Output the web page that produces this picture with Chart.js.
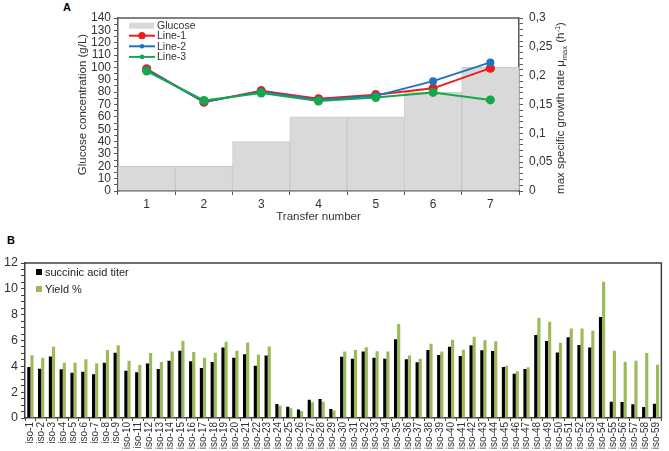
<!DOCTYPE html>
<html><head><meta charset="utf-8">
<script src="https://cdn.jsdelivr.net/npm/chart.js@4.4.0/dist/chart.umd.min.js"></script>
<style>
html,body{margin:0;padding:0;background:#fff;width:669px;height:451px;overflow:hidden;}
canvas{position:absolute;left:0;}
#ca{top:0;}
#cb{top:232px;}
.lbl{position:absolute;font:bold 11px "Liberation Sans",Arial,sans-serif;line-height:12px;color:#000;}
</style></head><body>
<div class="lbl" style="left:63px;top:1px">A</div>
<div class="lbl" style="left:7px;top:234px">B</div>
<canvas id="ca" width="669" height="232"></canvas>
<canvas id="cb" width="669" height="219"></canvas>
<script>
// ---- Panel A data ----
const transfers = ['1','2','3','4','5','6','7'];
const glucose = [20, 20, 40, 60, 60, 80, 100];
const line1 = [0.212, 0.154, 0.174, 0.160, 0.167, 0.178, 0.213];
const line2 = [0.210, 0.155, 0.172, 0.158, 0.165, 0.1905, 0.223];
const line3 = [0.208, 0.157, 0.170, 0.156, 0.162, 0.171, 0.158];

// ---- Panel B data ----
const isoLabels = ['iso-1','iso-2','iso-3','iso-4','iso-5','iso-6','iso-7','iso-8','iso-9','iso-10',
 'iso-11','iso-12','iso-13','iso-14','iso-15','iso-16','iso-17','iso-18','iso-19','iso-20',
 'iso-21','iso-22','iso-23','iso-24','iso-25','iso-26','iso-27','iso-28','iso-29','iso-30',
 'iso-31','iso-32','iso-33','iso-34','iso-35','iso-36','iso-37','iso-38','iso-39','iso-40',
 'iso-41','iso-42','iso-43','iso-44','iso-45','iso-46','iso-47','iso-48','iso-49','iso-50',
 'iso-51','iso-52','iso-53','iso-54','iso-55','iso-56','iso-57','iso-58','iso-59'];
const titer = [3.95,3.82,4.77,3.77,3.51,3.59,3.38,4.28,5.06,3.66,
 3.54,4.21,3.79,4.44,5.21,4.39,3.87,4.34,5.45,4.67,
 4.93,4.05,4.83,1.08,0.88,0.65,1.42,1.47,0.70,4.75,
 4.59,5.14,4.67,4.59,6.09,4.54,4.31,5.26,4.88,5.52,
 4.80,5.63,5.24,5.19,3.95,3.43,3.79,6.43,5.96,5.08,
 6.25,5.65,5.45,7.82,1.26,1.24,1.06,0.85,1.11];
const yieldPct = [4.85,4.67,5.52,4.28,4.28,4.54,4.23,5.26,5.63,4.44,
 4.10,5.03,4.34,5.14,5.99,5.11,4.67,5.06,5.91,5.21,
 5.85,4.89,5.53,0.94,0.75,0.54,1.21,1.26,0.59,5.14,
 5.26,5.47,5.16,5.14,7.28,4.83,4.59,5.75,5.14,6.06,
 5.29,6.30,6.01,5.94,4.05,3.61,3.92,7.77,7.46,5.83,
 6.92,6.92,6.76,10.55,5.21,4.36,4.44,5.03,4.13];

const F = '"Liberation Sans", Arial, sans-serif';
const AX = '#595959';
const TX = '#333333';
const RED = '#ee1c1c', BLUE = '#1f72c4', GREEN = '#14a84a';
const GRAY = '#d9d9d9';

const plA = {
  id: 'plA',
  afterDraw(chart) {
    const ctx = chart.ctx, a = chart.chartArea;
    ctx.save();
    // top frame line
    ctx.strokeStyle = AX; ctx.lineWidth = 1.5;
    ctx.beginPath(); ctx.moveTo(a.left, a.top); ctx.lineTo(a.right, a.top); ctx.stroke();
    // legend
    const ds = chart.data.datasets;
    const rows = [
      {d: ds[3], y: 25.7, box: true},
      {d: ds[0], y: 35.7, r: 3.6},
      {d: ds[1], y: 46.3, r: 2.3},
      {d: ds[2], y: 56.9, r: 2.3}
    ];
    ctx.font = '10.5px ' + F; ctx.textBaseline = 'middle'; ctx.textAlign = 'left';
    rows.forEach(rw => {
      if (rw.box) {
        ctx.fillStyle = rw.d.backgroundColor;
        ctx.fillRect(129, rw.y - 3, 25, 6);
      } else {
        ctx.strokeStyle = rw.d.borderColor; ctx.lineWidth = 2;
        ctx.beginPath(); ctx.moveTo(129, rw.y); ctx.lineTo(155, rw.y); ctx.stroke();
        ctx.fillStyle = rw.d.borderColor;
        ctx.beginPath(); ctx.arc(142, rw.y, rw.r, 0, Math.PI * 2); ctx.fill();
      }
      ctx.fillStyle = TX;
      ctx.fillText(rw.d.label, 157, rw.y + 0.5);
    });
    // right axis title with sub/superscript
    ctx.translate(560, 108);
    ctx.rotate(-Math.PI / 2);
    ctx.textBaseline = 'alphabetic';
    ctx.fillStyle = TX;
    const big = '11.5px ' + F, small = '7.5px ' + F;
    const parts = [
      {t: 'max specific growth rate \u03bc', f: big, dy: 0},
      {t: 'max', f: small, dy: 2.5},
      {t: ' (h', f: big, dy: 0},
      {t: '-1', f: small, dy: -4.5},
      {t: ')', f: big, dy: 0}
    ];
    let total = 0;
    parts.forEach(p => { ctx.font = p.f; p.w = ctx.measureText(p.t).width; total += p.w; });
    let x = -total / 2;
    parts.forEach(p => { ctx.font = p.f; ctx.fillText(p.t, x, 4 + p.dy); x += p.w; });
    ctx.restore();
  }
};

new Chart(document.getElementById('ca'), {
  type: 'bar',
  data: {
    labels: transfers,
    datasets: [
      {type: 'line', label: 'Line-1', data: line1, yAxisID: 'y1', borderColor: RED, backgroundColor: RED,
       pointBackgroundColor: RED, pointBorderColor: RED, borderWidth: 2, pointRadius: 4.6, pointBorderWidth: 0, tension: 0, order: 3},
      {type: 'line', label: 'Line-2', data: line2, yAxisID: 'y1', borderColor: BLUE, backgroundColor: BLUE,
       pointBackgroundColor: BLUE, pointBorderColor: BLUE, borderWidth: 2, pointRadius: 4, pointBorderWidth: 0, tension: 0, order: 2},
      {type: 'line', label: 'Line-3', data: line3, yAxisID: 'y1', borderColor: GREEN, backgroundColor: GREEN,
       pointBackgroundColor: GREEN, pointBorderColor: GREEN, borderWidth: 2, pointRadius: 4.5, pointBorderWidth: 0, tension: 0, order: 1},
      {type: 'bar', label: 'Glucose', data: glucose, yAxisID: 'y', backgroundColor: GRAY, borderColor: '#c9c9c9',
       borderWidth: 1, barPercentage: 1, categoryPercentage: 1, order: 10}
    ]
  },
  options: {
    responsive: false, animation: false, devicePixelRatio: 1,
    layout: {padding: {top: 18, left: 0, right: 0, bottom: 0}},
    plugins: {legend: {display: false}, tooltip: {enabled: false}},
    scales: {
      x: {
        grid: {drawOnChartArea: false, drawTicks: true, tickLength: 4, color: AX},
        border: {color: AX, width: 1.5},
        ticks: {color: TX, font: {size: 12, family: F}, padding: 2},
        title: {display: true, text: 'Transfer number', color: TX, font: {size: 11.5, family: F}, padding: {top: 0, bottom: 8}},
        afterFit(s) { s.height = 41; }
      },
      y: {
        position: 'left', min: 0, max: 140,
        grid: {drawOnChartArea: false, drawTicks: true, tickLength: 4, color: AX},
        border: {color: AX, width: 1.5},
        ticks: {stepSize: 5, autoSkip: false, maxTicksLimit: 100, color: TX, font: {size: 12, family: F}, padding: 3,
          callback: v => (Math.round(v) % 10 === 0 ? String(Math.round(v)) : '')},
        title: {display: true, text: 'Glucose concentration (g/L)', color: TX, font: {size: 11.5, family: F}, padding: {top: 76, bottom: 0}},
        afterFit(s) { s.width = 118; }
      },
      y1: {
        position: 'right', min: 0, max: 0.3,
        grid: {drawOnChartArea: false, drawTicks: true, tickLength: 4, color: AX},
        border: {color: AX, width: 1.5},
        ticks: {stepSize: 0.01, autoSkip: false, maxTicksLimit: 100, color: TX, font: {size: 12, family: F}, padding: 6,
          callback: v => { const r = Math.round(v * 100); return r % 5 === 0 ? String(r / 100).replace('.', ',') : ''; }},
        afterFit(s) { s.width = 150; }
      }
    }
  },
  plugins: [plA]
});

const plB = {
  id: 'plB',
  afterDraw(chart) {
    const ctx = chart.ctx, a = chart.chartArea;
    ctx.save();
    ctx.strokeStyle = '#404040'; ctx.lineWidth = 1.5;
    ctx.beginPath(); ctx.moveTo(a.left, a.top); ctx.lineTo(a.right, a.top); ctx.lineTo(a.right, a.bottom); ctx.stroke();
    const ds = chart.data.datasets;
    ctx.font = '11px ' + F; ctx.textBaseline = 'middle'; ctx.textAlign = 'left';
    [{d: ds[0], y: 40}, {d: ds[1], y: 57}].forEach(rw => {
      ctx.fillStyle = rw.d.backgroundColor;
      ctx.fillRect(36, rw.y - 3, 6, 6);
      ctx.fillStyle = '#222';
      ctx.fillText(rw.d.label, 45, rw.y + 0.5);
    });
    ctx.restore();
  }
};

new Chart(document.getElementById('cb'), {
  type: 'bar',
  data: {
    labels: isoLabels,
    datasets: [
      {label: 'succinic acid titer', data: titer, backgroundColor: '#000000', barPercentage: 1, categoryPercentage: 0.58},
      {label: 'Yield %', data: yieldPct, backgroundColor: '#9bbb59', barPercentage: 1, categoryPercentage: 0.58}
    ]
  },
  options: {
    responsive: false, animation: false, devicePixelRatio: 1,
    layout: {padding: {top: 31, left: 0, right: 3, bottom: 0}},
    plugins: {legend: {display: false}, tooltip: {enabled: false}},
    scales: {
      x: {
        grid: {drawOnChartArea: false, drawTicks: true, tickLength: 3, color: '#404040'},
        border: {color: '#404040', width: 1.5},
        ticks: {autoSkip: false, minRotation: 90, maxRotation: 90, color: TX, font: {size: 10, family: F}, padding: 1},
        afterFit(s) { s.height = 33; }
      },
      y: {
        min: 0, max: 12,
        grid: {drawOnChartArea: false, drawTicks: true, tickLength: 4, color: '#404040'},
        border: {color: '#404040', width: 1.5},
        ticks: {stepSize: 0.5, autoSkip: false, maxTicksLimit: 100, color: TX, font: {size: 12.5, family: F}, padding: 3,
          callback: v => (Math.abs(v % 2) < 1e-6 ? String(v) : '')},
        afterFit(s) { s.width = 25; }
      }
    }
  },
  plugins: [plB]
});
</script>
</body></html>
